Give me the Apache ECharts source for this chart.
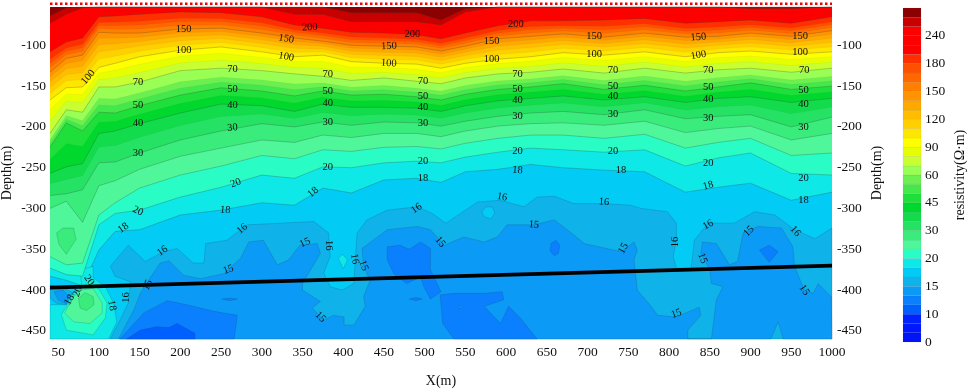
<!DOCTYPE html>
<html>
<head>
<meta charset="utf-8">
<style>html,body{margin:0;padding:0;background:#fff}#c{width:969px;height:388px}</style>
<script src="https://cdn.jsdelivr.net/npm/echarts@6/dist/echarts.min.js"></script>
</head>
<body>
<div id="c"></div>
<script>
const xTicks=[50,100,150,200,250,300,350,400,450,500,550,600,650,700,750,800,850,900,950,1000];
const depthTicks=[-100,-150,-200,-250,-300,-350,-400,-450];
const barTickLabels=['0','10','15','20','30','45','60','90','120','150','180','240',''];
const bandLevels=[0,3.3,6.7,10,11.7,13.3,15,16,18,20,23.3,26.7,30,35,40,45,50,55,60,70,80,90,100,110,120,130,140,150,160,170,180,200,220,240,260,280];
const bandColors=['#0014f5','#0018ff','#0022ff','#0060ff','#0a80ff','#0c9af7','#10b2ea','#02cbf6','#0ee8e6','#2afcc6','#4ff79a','#3aec7c','#26e264','#12dc4c','#00d82e','#1fe03a','#44e84a','#6cf050','#99ff55','#c8ff33','#e6ff00','#ffff00','#ffe600','#ffd000','#ffbc00','#ffa800','#ff9400','#ff8000','#ff6800','#ff5000','#ff3000','#ff0000','#ff0000','#ff0000','#c80000','#8b0000'];

const profileX=[40,60,80,100,120,150,200,250,300,340,375,410,450,490,520,550,590,630,670,720,770,820,860,900,950,1000];
const depth280=[-64,-54,-48,-48,-48,-48,-48,-48,-48,-48,-53,-60,-60,-60,-69,-55,-48,-48,-48,-48,-48,-48,-48,-48,-48,-48];
const depth260=[-73,-62,-54,-48,-48,-48,-48,-48,-48,-62,-62,-71,-71,-71,-75,-59,-51,-48,-48,-48,-48,-48,-51,-55,-55,-49];
const depth200=[-108,-96,-91,-65,-64,-62,-59,-60,-65,-75,-79,-84,-85,-87,-92,-85,-76,-70,-70,-69,-67,-73,-71,-69,-73,-65];
const depth150=[-133,-116,-112,-84,-85,-85,-80,-79,-85,-91,-95,-100,-101,-102,-107,-101,-92,-89,-86,-90,-85,-90,-89,-85,-89,-82];
const depth100=[-167,-152,-151,-127,-122,-114,-106,-102,-108,-114,-112,-120,-122,-123,-128,-122,-117,-114,-109,-112,-108,-114,-109,-107,-111,-108];
const depth70=[-208,-179,-182,-151,-151,-145,-131,-128,-131,-135,-138,-143,-140,-144,-147,-140,-135,-133,-129,-134,-128,-134,-130,-128,-133,-128];
const depth50=[-225,-195,-205,-182,-183,-174,-161,-152,-156,-162,-156,-161,-160,-163,-167,-160,-154,-151,-147,-154,-149,-156,-151,-146,-154,-150];
const depth40=[-257,-249,-245,-208,-205,-196,-183,-172,-174,-181,-172,-176,-176,-177,-181,-174,-168,-165,-162,-167,-163,-170,-165,-163,-170,-165];
const depth30=[-284,-282,-277,-244,-243,-232,-216,-205,-196,-200,-194,-198,-194,-195,-199,-193,-187,-183,-181,-185,-179,-190,-187,-185,-200,-188];
const depth27=[-300,-291,-317,-272,-266,-252,-236,-226,-216,-219,-210,-213,-208,-208,-212,-205,-199,-196,-195,-198,-193,-207,-202,-199,-216,-208];
const depth23=[-359,-369,-367,-308,-293,-275,-259,-248,-235,-239,-228,-230,-225,-224,-227,-220,-214,-210,-210,-214,-209,-226,-219,-214,-235,-232];
const depth20=[-373,-381,-383,-320,-306,-302,-286,-274,-259,-263,-249,-250,-244,-242,-244,-237,-231,-226,-228,-231,-228,-248,-238,-232,-257,-259];
const depth18=[-383,-388,-395,-351,-328,-326,-308,-302,-293,-296,-275,-281,-265,-263,-268,-255,-252,-246,-250,-253,-255,-280,-274,-269,-290,-280];
const keyLevels=[18,20,23.3,26.7,30,40,50,70,100,150,200,260,280];
const keyDepths=[depth18,depth20,depth23,depth27,depth30,depth40,depth50,depth70,depth100,depth150,depth200,depth260,depth280];

const blob18=[[40,-418],[60,-418],[69,-402],[79,-394],[77,-375],[93,-371],[93,-385],[108,-396],[118,-416],[122,-439],[112,-460],[40,-460]];
const blob20=[[89,-389],[75,-400],[67,-410],[54,-430],[60,-449],[93,-455],[108,-434],[110,-416],[101,-400]];
const blob23=[[79,-400],[69,-408],[58,-428],[69,-439],[89,-441],[104,-428],[104,-416],[93,-398]];
const blob27=[[75,-410],[83,-403],[93,-408],[94,-418],[85,-425],[77,-422]];
const upper27=[[48,-330],[56,-324],[69,-324],[72,-338],[60,-356],[51,-344]];
const low16=[[114,-460],[126,-437],[136,-416],[139,-390],[120,-383],[114,-371],[136,-345],[157,-365],[179,-353],[196,-349],[216,-367],[229,-367],[231,-343],[257,-339],[282,-320],[364,-316],[382,-330],[384,-359],[376,-379],[384,-396],[399,-400],[413,-392],[415,-359],[417,-330],[429,-314],[454,-302],[491,-298],[509,-306],[526,-318],[544,-306],[565,-292],[593,-290],[622,-298],[638,-286],[659,-285],[683,-294],[720,-294],[753,-296],[766,-300],[798,-304],[809,-318],[809,-339],[805,-359],[809,-373],[827,-374],[831,-339],[848,-318],[880,-318],[905,-304],[930,-308],[954,-326],[979,-337],[1000,-324],[1000,-460]];
const pocket16=[[40,-394],[54,-396],[67,-403],[60,-418],[48,-416],[40,-410]];
const isle16=[[570,-304],[575,-298],[583,-298],[586,-306],[581,-313],[573,-310]];
const spot18=[[394,-361],[399,-356],[405,-363],[400,-374]];
const low15=[[124,-460],[143,-424],[151,-404],[161,-388],[175,-367],[186,-364],[204,-382],[225,-386],[253,-380],[274,-361],[284,-341],[302,-339],[311,-355],[319,-369],[333,-363],[347,-345],[368,-343],[372,-355],[350,-392],[350,-400],[372,-414],[362,-422],[376,-437],[388,-431],[401,-433],[401,-443],[413,-443],[427,-420],[425,-408],[433,-388],[425,-371],[423,-349],[454,-326],[491,-322],[507,-326],[524,-345],[548,-335],[573,-341],[589,-335],[601,-320],[634,-320],[659,-314],[675,-326],[696,-343],[741,-353],[757,-341],[761,-351],[757,-363],[761,-400],[778,-420],[786,-431],[809,-433],[837,-421],[839,-431],[823,-449],[823,-460],[852,-460],[858,-412],[866,-396],[852,-392],[850,-375],[839,-355],[841,-341],[858,-343],[868,-359],[874,-369],[884,-365],[891,-330],[909,-322],[938,-324],[952,-347],[954,-371],[966,-400],[977,-404],[983,-392],[999,-408],[1000,-460],[940,-460],[934,-439],[925,-460]];
const pocket15=[[45,-402],[56,-400],[63,-407],[60,-417],[50,-412]];
const low13a=[[126,-460],[155,-428],[184,-413],[208,-418],[241,-426],[270,-431],[266,-460]];
const low13b=[[251,-411],[261,-410],[270,-411],[261,-413]];
const low13c=[[454,-347],[470,-345],[481,-350],[495,-341],[507,-349],[507,-375],[520,-402],[507,-411],[499,-396],[495,-384],[478,-392],[462,-380],[454,-363]];
const low13d=[[519,-406],[536,-404],[573,-404],[595,-402],[597,-412],[573,-420],[593,-441],[603,-420],[618,-435],[638,-460],[536,-460],[522,-441]];
const low13e=[[481,-411],[489,-409],[497,-411],[489,-413]];
const low13f=[[655,-343],[661,-339],[666,-345],[664,-355],[659,-358],[654,-352]];
const low13g=[[911,-351],[923,-345],[934,-353],[923,-366]];
const dot15=[[542,-419],[545,-419],[546,-421],[543,-423]];
const low12=[[134,-460],[151,-449],[171,-445],[186,-446],[196,-441],[218,-453],[218,-460]];

const tunnelX=[40,1000];
const tunnelDepth=[-397,-370];
const surfaceX=[40,1000];
const surfaceDepth=[-49,-49];

const contourLabels=[
[87,-139,'100',50],[204,-80,'150',0],[204,-106,'100',0],[148,-145,'70',0],[148,-174,'50',0],[148,-196,'40',0],[148,-232,'30',0],
[264,-129,'70',0],[264,-154,'50',0],[264,-173,'40',0],[264,-201,'30',5],[268,-269,'20',20],[359,-78,'200',3],[330,-92,'150',-10],[330,-114,'100',-10],[363,-280,'18',40],
[381,-136,'70',0],[381,-156,'50',0],[381,-171,'40',0],[381,-194,'30',0],[381,-249,'20',0],
[485,-87,'200',0],[456,-101,'150',3],[456,-122,'100',-3],[498,-144,'70',0],[498,-162,'50',0],[498,-176,'40',0],[498,-195,'30',0],[498,-242,'20',0],[498,-263,'18',0],
[582,-95,'150',0],[582,-117,'100',0],[612,-74,'200',0],[614,-135,'70',0],[614,-154,'50',0],[614,-167,'40',0],[614,-187,'30',0],[614,-230,'20',0],[614,-253,'18',-5],
[708,-89,'150',0],[708,-111,'100',0],[731,-131,'70',0],[731,-150,'50',0],[731,-163,'40',0],[731,-184,'30',0],[731,-230,'20',0],[741,-253,'18',0],
[836,-90,'150',5],[836,-112,'100',10],[848,-131,'70',0],[848,-151,'50',0],[848,-166,'40',0],[848,-189,'30',0],[848,-244,'20',0],[848,-272,'18',15],
[961,-89,'150',0],[961,-109,'100',0],[966,-131,'70',0],[965,-155,'50',0],[965,-172,'40',0],[965,-201,'30',0],[965,-263,'20',0],[965,-290,'18',0],
[148,-303,'20',-25],[255,-302,'18',-5],[130,-324,'18',35],[276,-325,'16',40],[178,-352,'16',35],[259,-375,'15',20],[353,-342,'15',25],[382,-345,'16',-90],
[88,-388,'20',-55],[74,-402,'20',70],[64,-412,'18',60],[160,-394,'15',65],[133,-409,'16',90],[116,-419,'18',-80],[372,-433,'15',-45],
[490,-300,'16',35],[595,-286,'16',-10],[720,-292,'16',-5],[519,-341,'15',-50],[634,-320,'15',-5],[414,-362,'16',-80],[425,-370,'15',-70],[744,-349,'15',60],
[807,-341,'16',90],[848,-320,'16',30],[898,-328,'15',45],[955,-328,'16',-50],[841,-361,'15',-70],[966,-400,'15',-55],[809,-429,'15',20]
];

const FONT='"Liberation Serif","Times New Roman",serif';
const yMin=-460,yMax=-53,xMin=40,xMax=1000;

function curveFor(level){
  let k=0;
  while(k<keyLevels.length-2&&keyLevels[k+1]<level)k++;
  const f=Math.log(level/keyLevels[k])/Math.log(keyLevels[k+1]/keyLevels[k]);
  return profileX.map((x,i)=>[x,keyDepths[k][i]+f*(keyDepths[k+1][i]-keyDepths[k][i])]);
}
const blobsAt={18:[blob18],20:[blob20],23.3:[blob23],26.7:[blob27,upper27]};
const shapes=[{pts:[[xMin,yMax],[xMax,yMax],[xMax,yMin],[xMin,yMin]],band:7,line:false}];
for(let b=8;b<bandLevels.length;b++){
  const L=bandLevels[b];
  const c=curveFor(L);
  shapes.push({pts:[[xMin,yMax],...c,[xMax,yMax]],band:b,curve:c,key:keyLevels.includes(L)});
  (blobsAt[L]||[]).forEach(p=>shapes.push({pts:p,band:b,closed:true}));
}
[[low16,6],[pocket16,6],[isle16,7],[spot18,8],[low15,5],[pocket15,5],[low13a,4],[low13b,4],[low13c,4],[low13d,4],[low13e,4],[low13f,4],[low13g,4],[dot15,5],[low12,3]]
  .forEach(([p,b])=>shapes.push({pts:p,band:b,closed:true}));

function clampPt(p){return [Math.max(xMin,Math.min(xMax,p[0])),Math.max(yMin,Math.min(yMax,p[1]))];}

const chart=echarts.init(document.getElementById('c'),null,{renderer:'canvas'});
const axisTxt={fontFamily:FONT,fontSize:13.5,color:'#111'};
chart.setOption({
  animation:false,
  backgroundColor:'#fff',
  grid:[
    {left:50,top:7,width:782,height:332,outerBoundsMode:'none',containLabel:false},
    {left:903,top:8,width:18,height:334,outerBoundsMode:'none',containLabel:false}
  ],
  xAxis:[
    {gridIndex:0,type:'value',min:xMin,max:xMax,splitLine:{show:false},axisLine:{show:false},axisTick:{show:false},
     axisLabel:Object.assign({customValues:xTicks,margin:6,formatter:v=>String(v)},axisTxt),
     name:'X(m)',nameLocation:'middle',nameGap:35,nameMoveOverlap:false,nameTextStyle:{fontFamily:FONT,fontSize:14,color:'#111'}},
    {gridIndex:1,type:'value',min:0,max:1,show:false}
  ],
  yAxis:[
    {gridIndex:0,type:'value',min:yMin,max:yMax,splitLine:{show:false},axisLine:{show:false},axisTick:{show:false},
     axisLabel:Object.assign({customValues:depthTicks,margin:4,formatter:v=>String(v)},axisTxt),
     name:'Depth(m)',nameLocation:'middle',nameGap:36,nameMoveOverlap:false,nameTextStyle:{fontFamily:FONT,fontSize:14,color:'#111'}},
    {gridIndex:0,type:'value',position:'right',min:yMin,max:yMax,splitLine:{show:false},axisLine:{show:false},axisTick:{show:false},
     axisLabel:Object.assign({customValues:depthTicks,margin:5,formatter:v=>String(v)},axisTxt),
     name:'Depth(m)',nameLocation:'middle',nameGap:38,nameMoveOverlap:false,nameTextStyle:{fontFamily:FONT,fontSize:14,color:'#111'}},
    {gridIndex:1,type:'value',position:'right',min:0,max:36,interval:3,splitLine:{show:false},axisLine:{show:false},axisTick:{show:false},
     axisLabel:Object.assign({margin:4,formatter:v=>barTickLabels[v/3]},axisTxt),
     name:'resistivity(Ω·m)',nameLocation:'middle',nameGap:32,nameMoveOverlap:false,nameTextStyle:{fontFamily:FONT,fontSize:14,color:'#111'}}
  ],
  series:[
    {type:'custom',xAxisIndex:0,yAxisIndex:0,silent:true,z:1,data:shapes.map((s,i)=>[i]),
     renderItem:(params,api)=>{
       const s=shapes[params.dataIndex];
       const pts=s.pts.map(p=>api.coord(clampPt(p)));
       const children=[{type:'polygon',shape:{points:pts},style:{fill:bandColors[s.band],stroke:null}}];
       if(s.curve){
         children.push({type:'polyline',shape:{points:s.curve.map(p=>api.coord(clampPt(p)))},
           style:{fill:null,stroke:s.key?'rgba(50,60,50,0.38)':'rgba(50,60,50,0.07)',lineWidth:0.7}});
       }else if(s.closed){
         children.push({type:'polygon',shape:{points:pts},style:{fill:null,stroke:'rgba(30,50,70,0.3)',lineWidth:0.6}});
       }
       return {type:'group',children};
     }},
    {type:'line',xAxisIndex:0,yAxisIndex:0,silent:true,z:3,symbol:'none',clip:false,
     data:surfaceX.map((x,i)=>[x,surfaceDepth[i]]),lineStyle:{color:'#f00000',width:2.5,type:[2.5,2.5]}},
    {type:'custom',xAxisIndex:0,yAxisIndex:0,silent:true,z:5,data:contourLabels.map((l,i)=>[i]),
     renderItem:(params,api)=>{
       const l=contourLabels[params.dataIndex];
       const p=api.coord([l[0],l[1]]);
       return {type:'text',x:p[0],y:p[1],rotation:l[3]*Math.PI/180,
         style:{text:l[2],fontFamily:FONT,fontSize:10.5,fill:'#111',align:'center',verticalAlign:'middle'}};
     }},
    {type:'line',xAxisIndex:0,yAxisIndex:0,silent:true,z:4,symbol:'none',
     data:tunnelX.map((x,i)=>[x,tunnelDepth[i]]),lineStyle:{color:'#000',width:3.6}},
    {type:'custom',xAxisIndex:1,yAxisIndex:2,silent:true,z:1,data:bandColors.map((c,i)=>[i]),
     renderItem:(params,api)=>{
       const i=params.dataIndex;
       const a=api.coord([0,i+1]),b=api.coord([1,i]);
       return {type:'rect',shape:{x:a[0],y:a[1],width:b[0]-a[0],height:b[1]-a[1]},
         style:{fill:bandColors[i],stroke:'rgba(90,90,90,0.18)',lineWidth:0.5}};
     }}
  ]
});
</script>
</body>
</html>
